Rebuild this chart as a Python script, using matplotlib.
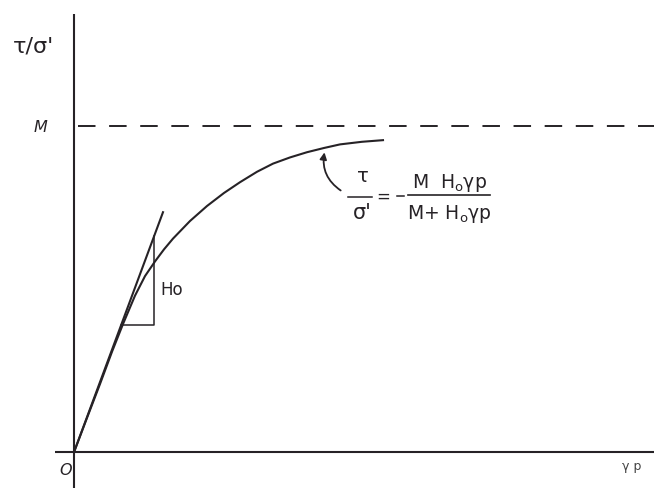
import numpy as np
import matplotlib
matplotlib.use("Agg")
import matplotlib.pyplot as plt

# stress ratio curve tau/sigma' against gamma_p
gp = [0.0, 0.13, 0.26, 0.38, 0.49, 0.61, 0.71, 0.81, 0.90, 0.99, 1.16, 1.33,
      1.50, 1.66, 1.83, 1.99, 2.16, 2.33, 2.50, 2.66, 2.88, 3.09]
ratio = [0.0, 0.105, 0.209, 0.308, 0.393, 0.480, 0.540, 0.585, 0.622, 0.655,
         0.709, 0.755, 0.795, 0.828, 0.860, 0.885, 0.904, 0.920, 0.933, 0.944,
         0.952, 0.957]

M = 1.0          # asymptote
H0 = 0.827       # initial slope
tangent_x = [0.0, 0.89]
tri_x = [0.47, 0.80]

ink = "#262226"

fig = plt.figure(figsize=(6.54, 4.89), dpi=100)
ax = fig.add_axes([0, 0, 1, 1])
ax.set_xlim(-0.74, 5.80)
ax.set_ylim(-0.110, 1.390)
ax.axis("off")

# axes drawn by hand, y axis runs a bit below the origin
ax.plot([-0.19, 5.80], [0, 0], color=ink, lw=1.5, solid_capstyle="butt")
ax.plot([0, 0], [-0.11, 1.345], color=ink, lw=1.5, solid_capstyle="butt")

# asymptote M
ax.plot([0.04, 5.80], [M, M], color=ink, lw=1.4, ls=(0, (9, 7)))

# curve and initial tangent
ax.plot(gp, ratio, color=ink, lw=1.5)
ax.plot(tangent_x, [H0 * x for x in tangent_x], color=ink, lw=1.5)

# slope triangle
x0, x1 = tri_x
ax.plot([x0, x1, x1], [H0 * x0, H0 * x0, H0 * x1], color=ink, lw=1.1)
ax.text(0.86, 0.50, "Ho", fontsize=12, color=ink, va="center", ha="left")

# labels
ax.text(-0.40, 1.248, "τ/σ'", fontsize=16, color=ink, ha="center", va="center")
ax.text(-0.34, 1.0, "M", fontsize=11.5, style="italic", color=ink,
        ha="center", va="center")
ax.text(-0.08, -0.052, "O", fontsize=11.5, style="italic", color=ink,
        ha="center", va="center")
ax.text(5.58, -0.040, "γ p", fontsize=9, color="#444444",
        ha="center", va="center")

# formula with pointer to the curve
ax.text(2.89, 0.850, "τ", fontsize=14, color=ink, ha="center", va="center")
ax.plot([2.74, 2.98], [0.783, 0.783], color=ink, lw=1.1)
ax.text(2.88, 0.737, "σ'", fontsize=15, color=ink, ha="center", va="center")
ax.text(3.09, 0.786, "=", fontsize=12, color=ink, ha="center", va="center")
ax.plot([3.23, 3.30], [0.785, 0.785], color=ink, lw=1.1)
ax.plot([3.34, 4.16], [0.790, 0.790], color=ink, lw=1.2)
ax.text(3.75, 0.830, r"M  H$_\mathregular{o}$γp", fontsize=13.5, color=ink,
        ha="center", va="center")
ax.text(3.75, 0.735, r"M+ H$_\mathregular{o}$γp", fontsize=13.5, color=ink,
        ha="center", va="center")
ax.annotate("", xy=(2.51, 0.928), xytext=(2.69, 0.798),
            arrowprops=dict(arrowstyle="-|>", color=ink, lw=1.3,
                            mutation_scale=10,
                            connectionstyle="arc3,rad=-0.35"))

fig.savefig("out.png", dpi=100, facecolor="white")
